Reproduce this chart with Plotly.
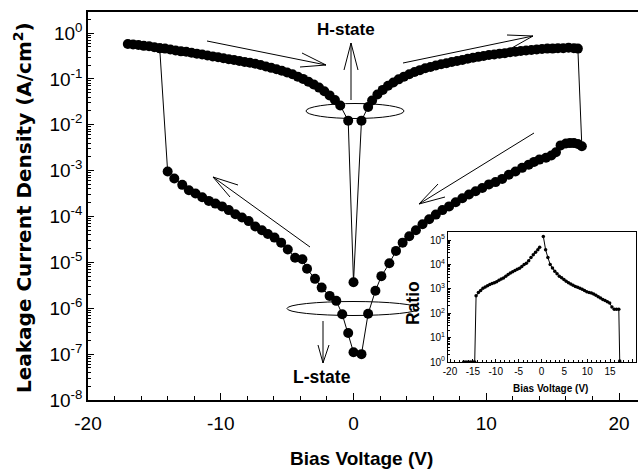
import plotly.graph_objects as go

# ---------------- main data (bias voltage V, leakage current density A/cm^2) ----------------
v_up_left = [-17.0, -16.6, -16.2, -15.8, -15.4, -15.0, -14.6, -14.2, -13.8, -13.4, -13.0, -12.6,
             -12.2, -11.8, -11.4, -11.0, -10.6, -10.2, -9.8, -9.4, -9.0, -8.6, -8.2, -7.8, -7.4,
             -7.0, -6.6, -6.2, -5.8, -5.4, -5.0, -4.6, -4.2, -3.8, -3.4, -3.0, -2.6, -2.2, -1.8,
             -1.4, -1.0, -0.4]
j_up_left = [0.575, 0.562, 0.550, 0.525, 0.513, 0.490, 0.468, 0.457, 0.437, 0.417, 0.398, 0.389,
             0.372, 0.355, 0.339, 0.324, 0.309, 0.295, 0.282, 0.269, 0.257, 0.245, 0.234, 0.224,
             0.214, 0.200, 0.186, 0.174, 0.162, 0.151, 0.138, 0.126, 0.112, 0.100, 0.0871, 0.0759,
             0.0646, 0.0537, 0.0437, 0.0347, 0.0263, 0.0123]

v_h_zero = [0.0]
j_h_zero = [3.7e-6]

v_up_right = [0.6, 1.1, 1.4, 1.8, 2.2, 2.6, 3.0, 3.4, 3.8, 4.2, 4.6, 5.0, 5.4, 5.8, 6.2, 6.6, 7.0,
              7.4, 7.8, 8.2, 8.6, 9.0, 9.4, 9.8, 10.2, 10.6, 11.0, 11.4, 11.8, 12.2, 12.6, 13.0,
              13.4, 13.8, 14.2, 14.6, 15.0, 15.4, 15.8, 16.2, 16.6, 16.9]
j_up_right = [0.0123, 0.0245, 0.0339, 0.0457, 0.0575, 0.0708, 0.0832, 0.0977, 0.112, 0.126, 0.141,
              0.155, 0.170, 0.182, 0.195, 0.209, 0.219, 0.234, 0.245, 0.257, 0.275, 0.288, 0.302,
              0.316, 0.331, 0.339, 0.355, 0.363, 0.380, 0.389, 0.407, 0.417, 0.427, 0.437, 0.447,
              0.457, 0.457, 0.468, 0.468, 0.479, 0.468, 0.457]

v_low_right = [17.2, 16.9, 16.6, 16.3, 16.0, 15.6, 15.25, 14.9, 14.5, 14.0, 13.6, 13.2, 12.7, 12.2,
               11.7, 11.2, 10.7, 10.2, 9.7, 9.2, 8.7, 8.2, 7.7, 7.2, 6.7, 6.2, 5.7, 5.2, 4.7, 4.2,
               3.7, 3.2, 2.7, 2.1, 1.65, 1.1, 0.6]
j_low_right = [3.39e-3, 3.80e-3, 3.98e-3, 3.98e-3, 3.89e-3, 3.55e-3, 2.51e-3, 2.14e-3, 1.91e-3,
               1.74e-3, 1.55e-3, 1.35e-3, 1.15e-3, 9.55e-4, 8.13e-4, 6.61e-4, 5.62e-4, 5.01e-4,
               4.17e-4, 3.55e-4, 3.02e-4, 2.51e-4, 2.04e-4, 1.66e-4, 1.38e-4, 1.10e-4, 8.71e-5,
               6.76e-5, 5.01e-5, 3.72e-5, 2.69e-5, 1.78e-5, 9.55e-6, 5.01e-6, 2.40e-6, 7.59e-7,
               1.0e-7]

v_l_zero = [0.0]
j_l_zero = [1.1e-7]

v_low_left = [-0.4, -0.85, -1.3, -1.8, -2.4, -2.9, -3.5, -3.85, -4.4, -4.95, -5.45, -5.95, -6.45,
              -6.9, -7.4, -7.9, -8.4, -8.9, -9.4, -9.9, -10.4, -10.9, -11.4, -11.9, -12.4, -12.9,
              -13.5, -14.0]
j_low_left = [2.88e-7, 7.41e-7, 1.45e-6, 1.86e-6, 2.82e-6, 4.37e-6, 7.24e-6, 1.17e-5, 1.26e-5,
              1.91e-5, 2.69e-5, 3.47e-5, 4.17e-5, 5.01e-5, 6.03e-5, 7.94e-5, 9.55e-5, 1.12e-4,
              1.38e-4, 1.66e-4, 1.91e-4, 2.19e-4, 2.63e-4, 3.16e-4, 3.72e-4, 4.90e-4, 6.76e-4,
              9.55e-4]

# ---------------- inset data (ratio H/L) ----------------
v_ratio_left = [-17.0, -16.5, -16.0, -15.5, -15.0, -14.6, -14.3, -13.8, -13.3, -12.8, -12.3, -11.8,
                -11.3, -10.8, -10.3, -9.8, -9.3, -8.8, -8.3, -7.8, -7.3, -6.8, -6.3, -5.8, -5.3,
                -4.8, -4.3, -3.8, -3.3, -2.8, -2.3, -1.8, -1.3, -0.8, -0.4]
r_ratio_left = [1, 1, 1, 1, 1, 1, 525, 708, 851, 1047, 1202, 1349, 1514, 1660, 1778, 1950, 2239,
                2512, 2754, 3311, 3890, 4467, 5012, 5623, 6310, 6918, 8318, 1.0e4, 1.12e4, 1.41e4,
                1.91e4, 2.51e4, 3.16e4, 3.98e4, 5.01e4]
v_ratio_right = [0.4, 0.9, 1.4, 1.9, 2.4, 2.9, 3.4, 3.9, 4.4, 4.9, 5.4, 5.9, 6.4, 6.9, 7.4, 7.9,
                 8.4, 8.9, 9.4, 9.9, 10.4, 10.9, 11.4, 11.9, 12.4, 12.9, 13.4, 13.9, 14.4, 14.9,
                 15.4, 15.9, 16.4, 16.9, 17.1]
r_ratio_right = [1.41e5, 3.98e4, 1.91e4, 1.0e4, 7079, 5248, 4169, 3311, 2818, 2399, 2042, 1778,
                 1585, 1413, 1259, 1148, 1047, 955, 851, 759, 708, 676, 617, 550, 479, 417, 363,
                 331, 295, 263, 178, 145, 145, 145, 1.1]

# ---------------- tick labels ----------------
y_tick_exps = [-8, -7, -6, -5, -4, -3, -2, -1, 0]
y_tick_text = ["10<sup>%d</sup>" % e for e in y_tick_exps]
x_tick_vals = [-20, -10, 0, 10, 20]
x_tick_text = ["-20", "-10", "0", "10", "20"]
inset_y_exps = [0, 1, 2, 3, 4, 5]
inset_y_text = ["10<sup>%d</sup>" % e for e in inset_y_exps]
inset_x_vals = [-20, -15, -10, -5, 0, 5, 10, 15, 20]
inset_x_text = ["-20", "-15", "-10", "-5", "0", "5", "10", "15", "20"]

FONT = "Liberation Sans, Arial, Helvetica, sans-serif"
WIDE = "DejaVu Sans, Liberation Sans, Arial, sans-serif"

# full sweep order for the main loop
v_all = (v_up_left + v_h_zero + v_up_right + v_low_right + v_l_zero + v_low_left + [v_up_left[6]])
j_all = (j_up_left + j_h_zero + j_up_right + j_low_right + j_l_zero + j_low_left + [j_up_left[6]])

fig = go.Figure()
fig.add_trace(go.Scatter(
    x=v_all, y=j_all, mode="lines+markers",
    line=dict(color="black", width=1),
    marker=dict(color="black", size=10, line=dict(width=0)),
    showlegend=False, xaxis="x", yaxis="y"))

fig.add_trace(go.Scatter(
    x=v_ratio_left + [None] + v_ratio_right,
    y=r_ratio_left + [None] + r_ratio_right,
    mode="lines+markers", connectgaps=False,
    line=dict(color="black", width=1),
    marker=dict(color="black", size=3.5),
    showlegend=False, xaxis="x2", yaxis="y2"))

# plot-area pixel geometry
L, R, T, B = 88, 638, 12, 400


def px(x):
    return (x - L) / (R - L)


def py(y):
    return (B - y) / (B - T)


shapes = []


def seg(x0, y0, x1, y1):
    shapes.append(dict(type="line", xref="paper", yref="paper",
                       x0=px(x0), y0=py(y0), x1=px(x1), y1=py(y1),
                       line=dict(color="black", width=1)))


def arrow(tail, tip, b1, b2):
    seg(tail[0], tail[1], tip[0], tip[1])
    seg(tip[0], tip[1], b1[0], b1[1])
    seg(tip[0], tip[1], b2[0], b2[1])


arrow((207, 41), (326, 65), (302, 53), (300, 67))      # top-left
arrow((351, 100), (351, 43), (344, 70), (358, 70))     # H-state up
arrow((403, 63), (533, 36), (507, 35), (510, 49))      # top-right
arrow((534, 133), (419, 204), (438, 184), (445, 197))  # lower-right
arrow((310, 247), (213, 177), (238, 185), (230, 197))  # lower-left
arrow((323, 321), (323, 363), (318, 345), (329, 345))  # L-state down

for (x0, y0, x1, y1) in [(306, 103.5, 404, 118.5), (287, 301.5, 419, 315.5)]:
    shapes.append(dict(type="circle", xref="paper", yref="paper",
                       x0=px(x0), x1=px(x1), y0=py(y1), y1=py(y0),
                       line=dict(color="black", width=1)))

annotations = [
    dict(text="<b>Leakage Current Density (A/cm<sup>2</sup>)</b>", x=px(23), y=py(208),
         textangle=-90, font=dict(size=20, family=WIDE, color="black")),
    dict(text="<b>Bias Voltage (V)</b>", x=px(361), y=py(459),
         font=dict(size=19, family=FONT, color="black")),
    dict(text="<b>H-state</b>", x=px(346), y=py(30), font=dict(size=17, family=FONT, color="black")),
    dict(text="<b>L-state</b>", x=px(322), y=py(377), font=dict(size=17.5, family=FONT, color="black")),
    dict(text="<b>Ratio</b>", x=px(413), y=py(303), textangle=-90,
         font=dict(size=17.5, family=FONT, color="black")),
    dict(text="<b>Bias Voltage (V)</b>", x=px(550), y=py(388),
         font=dict(size=10, family=FONT, color="black")),
]
for a in annotations:
    a.update(xref="paper", yref="paper", showarrow=False, xanchor="center", yanchor="middle")

fig.update_layout(
    width=638, height=474,
    margin=dict(l=L, r=638 - R, t=T, b=474 - B),
    paper_bgcolor="white", plot_bgcolor="white",
    font=dict(family=FONT, color="black"),
    shapes=shapes, annotations=annotations,
    xaxis=dict(range=[-20, 21.43], domain=[0, 1], showgrid=False, zeroline=False,
               showline=True, linecolor="black", linewidth=1.5, mirror=True,
               ticks="inside", ticklen=7, tickwidth=1, tickcolor="black",
               tickvals=x_tick_vals, ticktext=x_tick_text, tickfont=dict(size=19, family=FONT),
               ticklabelstandoff=5,
               minor=dict(ticks="inside", dtick=2, ticklen=4, tickcolor="black", showgrid=False)),
    yaxis=dict(type="log", range=[-8, 0.458], domain=[0, 1], showgrid=False, zeroline=False,
               showline=True, linecolor="black", linewidth=1.5, mirror=False,
               ticks="inside", ticklen=6, tickwidth=1, tickcolor="black",
               tickvals=[10 ** e for e in y_tick_exps], ticktext=y_tick_text,
               tickfont=dict(size=19, family=FONT),
               minor=dict(ticks="inside", ticklen=3, tickcolor="black", dtick="D1", showgrid=False)),
    xaxis2=dict(range=[-20.44, 20.66], domain=[px(448), px(636)], anchor="y2",
                showgrid=False, zeroline=False, showline=True, linecolor="black",
                linewidth=1, mirror=True, ticks="inside", ticklen=3, tickcolor="black",
                tickvals=inset_x_vals, ticktext=inset_x_text, tickfont=dict(size=10, family=FONT),
                minor=dict(ticks="inside", dtick=1, ticklen=2, tickcolor="black", showgrid=False)),
    yaxis2=dict(type="log", range=[0, 5.33], domain=[py(362), py(232)], anchor="x2",
                showgrid=False, zeroline=False, showline=True, linecolor="black",
                linewidth=1, mirror=True, ticks="inside", ticklen=3, tickcolor="black",
                tickvals=[10 ** e for e in inset_y_exps], ticktext=inset_y_text,
                tickfont=dict(size=10, family=FONT),
                minor=dict(ticks="inside", ticklen=2, tickcolor="black", dtick="D1", showgrid=False)),
)

fig.write_html("out.html", config={"displayModeBar": False},
               post_script="document.body.style.margin='0px';")
